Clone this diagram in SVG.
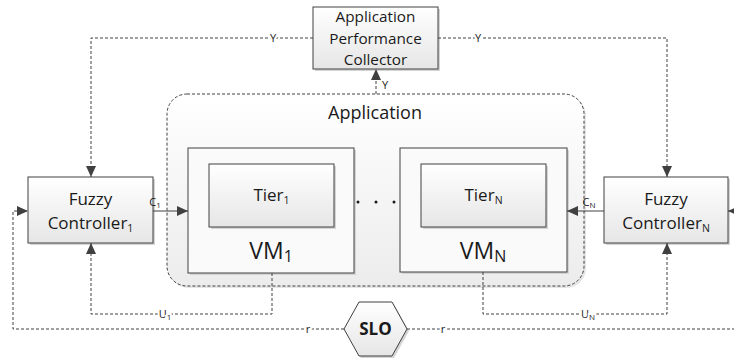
<svg xmlns="http://www.w3.org/2000/svg" width="734" height="360" viewBox="0 0 734 360">
<defs>
<linearGradient id="gBox" x1="0" y1="0" x2="0" y2="1">
<stop offset="0" stop-color="#ffffff"/>
<stop offset="1" stop-color="#e6e6e6"/>
</linearGradient>
<linearGradient id="gApp" x1="0" y1="0" x2="0" y2="1">
<stop offset="0" stop-color="#ffffff"/>
<stop offset="1" stop-color="#ececec"/>
</linearGradient>
<marker id="arr" markerUnits="userSpaceOnUse" markerWidth="12" markerHeight="10" refX="11" refY="5" orient="auto">
<path d="M0,0 L11,5 L0,10 Z" fill="#404040"/>
</marker>
</defs>
<style>
text{font-family:"Open Sans","Liberation Sans",sans-serif;fill:#1a1a1a;text-anchor:middle}
.box{fill:url(#gBox);stroke:#404040;stroke-width:1}
.shadow{fill:#d4d4d4}
.dash{fill:none;stroke:#404040;stroke-width:1;stroke-dasharray:3,2}
.solid{fill:none;stroke:#404040;stroke-width:1}
.lbl{font-size:11px;paint-order:stroke;stroke:#ffffff;stroke-width:4px}
.node{font-size:17px}
.sub{font-size:10.5px}
</style>

<g id="application">
<rect x="169" y="96" width="417" height="192" rx="20" class="shadow" opacity="0.6"/>
<rect x="167" y="94" width="417" height="192" rx="20" fill="url(#gApp)" stroke="#404040" stroke-width="1" stroke-dasharray="3,2"/>
<text x="375" y="119" font-size="18">Application</text>
</g>

<g id="apc">
<rect x="315" y="9" width="125" height="62" class="shadow"/>
<rect x="313" y="7" width="125" height="62" class="box"/>
<text x="375.5" y="22" font-size="15.3">Application</text>
<text x="375.5" y="43.5" font-size="15.3">Performance</text>
<text x="375.5" y="65" font-size="15.3">Collector</text>
</g>

<g id="vm1">
<rect x="190" y="150" width="166" height="125" class="shadow"/>
<rect x="188" y="148" width="166" height="125" fill="#fafafa" stroke="#404040"/>
<text x="271" y="259" font-size="23">VM<tspan font-size="16" dy="3">1</tspan></text>
</g>
<g id="tier1">
<rect x="211" y="166" width="125" height="63" class="shadow"/>
<rect x="209" y="164" width="125" height="63" class="box"/>
<text x="271.5" y="201" class="node">Tier<tspan class="sub" dy="3">1</tspan></text>
</g>

<g id="vmN">
<rect x="402" y="150" width="167" height="124" class="shadow"/>
<rect x="400" y="148" width="167" height="124" fill="#fafafa" stroke="#404040"/>
<text x="483" y="259" font-size="23">VM<tspan font-size="16" dy="3">N</tspan></text>
</g>
<g id="tierN">
<rect x="423" y="166" width="125" height="63" class="shadow"/>
<rect x="421" y="164" width="125" height="63" class="box"/>
<text x="483.5" y="201" class="node">Tier<tspan class="sub" dy="3">N</tspan></text>
</g>

<g id="dots">
<circle cx="358" cy="202" r="1.5" fill="#1a1a1a"/>
<circle cx="376" cy="202" r="1.5" fill="#1a1a1a"/>
<circle cx="394" cy="202" r="1.5" fill="#1a1a1a"/>
</g>

<g id="fc1">
<rect x="30" y="179" width="125" height="66" class="shadow"/>
<rect x="28" y="177" width="125" height="66" class="box"/>
<text x="90.5" y="205" class="node">Fuzzy</text>
<text x="90.5" y="229" class="node">Controller<tspan class="sub" dy="3">1</tspan></text>
</g>

<g id="fcN">
<rect x="606" y="179" width="124" height="66" class="shadow"/>
<rect x="604" y="177" width="124" height="66" class="box"/>
<text x="666" y="205" class="node">Fuzzy</text>
<text x="666" y="229" class="node">Controller<tspan class="sub" dy="3">N</tspan></text>
</g>

<g id="slo">
<polygon points="346,331 361,304 394,304 409,331 394,358 361,358" class="shadow"/>
<polygon points="344,329 359,302 392,302 407,329 392,356 359,356" fill="url(#gBox)" stroke="#404040"/>
<text x="375.5" y="335" font-size="17" font-weight="bold">SLO</text>
</g>

<g id="connectors">
<path d="M313,38 H91 V177" class="dash" marker-end="url(#arr)"/>
<path d="M438,38 H667 V177" class="dash" marker-end="url(#arr)"/>
<path d="M376,94 V69" class="dash" marker-end="url(#arr)"/>
<path d="M153,211 H188" class="solid" marker-end="url(#arr)"/>
<path d="M604,211 H567" class="solid" marker-end="url(#arr)"/>
<path d="M272,273 V314 H91 V243" class="dash" marker-end="url(#arr)"/>
<path d="M483,272 V314 H667 V243" class="dash" marker-end="url(#arr)"/>
<path d="M344,329 H13 V211 H28" class="dash" marker-end="url(#arr)"/>
<path d="M407,329 H742 V211 H728" class="dash" marker-end="url(#arr)"/>
<text x="273" y="42" class="lbl">Y</text>
<text x="478" y="42" class="lbl">Y</text>
<text x="385" y="89" font-size="11">Y</text>
<text x="155" y="206" font-size="11" text-anchor="start">C<tspan font-size="8" dy="2">1</tspan></text>
<text x="589" y="206" font-size="11" text-anchor="start">C<tspan font-size="8" dy="2">N</tspan></text>
<text x="165" y="318" class="lbl">U<tspan font-size="8" dy="2">1</tspan></text>
<text x="588" y="318" class="lbl">U<tspan font-size="8" dy="2">N</tspan></text>
<text x="308" y="333" class="lbl">r</text>
<text x="443" y="333" class="lbl">r</text>
</g>
</svg>
